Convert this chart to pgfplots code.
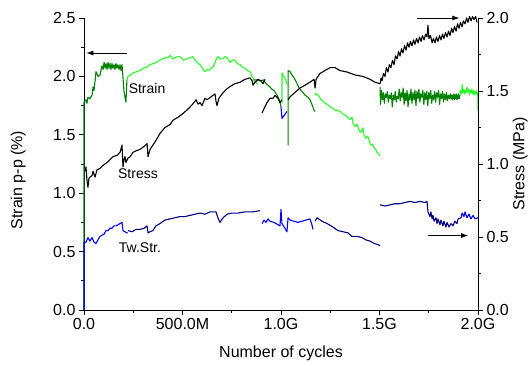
\documentclass[border=0pt]{standalone}
\usepackage{fontspec}
\setmainfont{Liberation Sans}
\usepackage{pgfplots}
\pgfplotsset{compat=1.18}
\usetikzlibrary{arrows.meta}

\definecolor{dkgreen}{RGB}{0,128,0}
\definecolor{ltgreen}{RGB}{40,255,40}
\definecolor{twblue}{RGB}{0,0,255}
\definecolor{twnavy}{RGB}{0,0,128}

\newcommand{\axfont}{\fontsize{16}{19}\selectfont}
\newcommand{\tagfont}{\fontsize{14}{17}\selectfont}

\pgfplotsset{
  base/.style={
    scale only axis, width=394pt, height=292pt,
    xmin=0, xmax=2,
    tick align=outside,
    major tick length=5pt, minor tick length=3pt,
    every tick/.style={black, line width=0.6pt},
    axis line style={line width=0.8pt},
    tick label style={font=\axfont},
    label style={font=\axfont},
    /pgf/number format/assume math mode=true,
    /pgf/number format/fixed, /pgf/number format/fixed zerofill,
    /pgf/number format/precision=1,
    clip=false,
  },
  sig/.style={line width=1.1pt, line join=round, no markers},
}

\begin{document}
\begin{tikzpicture}
% ---------- strain and twist strain (left axis) ----------
\begin{axis}[base,
  ymin=0, ymax=2.5,
  axis x line*=bottom, axis y line*=left,
  xtick={0,0.5,1,1.5,2},
  xticklabels={0.0,500.0M,1.0G,1.5G,2.0G},
  minor x tick num=1,
  ytick={0,0.5,1,1.5,2,2.5}, minor y tick num=1,
  xlabel={Number of cycles},
  ylabel={Strain p-p (\%)},
  xlabel style={at={(axis description cs:0.5,-0.147)}, anchor=center},
  ylabel style={at={(axis description cs:-0.167,0.445)}, anchor=center},
]
% strain, first block
\addplot[sig, dkgreen] coordinates {
(0,0) (0,1.78) (0.010,1.80) (0.015,1.77) (0.020,1.82) (0.030,1.81) (0.041,1.84)
(0.046,1.91) (0.051,1.88) (0.061,2.04) (0.071,2.00) (0.081,2.01) (0.091,2.09)
(0.097,2.06) (0.102,2.12) (0.107,2.07) (0.112,2.11) (0.117,2.06) (0.122,2.12)
(0.127,2.07) (0.132,2.11) (0.137,2.06) (0.142,2.11) (0.147,2.07) (0.152,2.10)
(0.157,2.06) (0.162,2.11) (0.167,2.07) (0.172,2.10) (0.178,2.06) (0.183,2.10)
(0.188,2.05) (0.193,2.10) (0.198,1.99) (0.203,1.87) (0.208,1.82) (0.213,1.78)
(0.218,1.97)
};
\addplot[sig, ltgreen] coordinates {
(0.218,1.97) (0.223,2.00) (0.236,2.01) (0.249,2.03) (0.266,2.04) (0.284,2.05)
(0.300,2.07) (0.320,2.08) (0.335,2.10) (0.350,2.11) (0.368,2.12) (0.386,2.14)
(0.398,2.15) (0.411,2.16) (0.425,2.16) (0.437,2.18) (0.450,2.15) (0.462,2.16)
(0.475,2.17) (0.487,2.17) (0.505,2.14) (0.523,2.15) (0.538,2.16) (0.553,2.17)
(0.564,2.14) (0.574,2.12) (0.589,2.10) (0.601,2.07) (0.614,2.04) (0.625,2.06)
(0.635,2.05) (0.645,2.07) (0.655,2.08) (0.663,2.11) (0.670,2.14) (0.680,2.17)
(0.693,2.15) (0.706,2.15) (0.716,2.17) (0.726,2.16) (0.741,2.12) (0.754,2.14)
(0.766,2.14) (0.779,2.11) (0.792,2.10) (0.805,2.08) (0.817,2.07) (0.830,2.05)
(0.843,2.04) (0.853,2.00) (0.863,1.97) (0.873,1.95) (0.883,1.93)
};
% strain, second block
\addplot[sig, dkgreen] coordinates {
(0.858,1.97) (0.870,1.97) (0.883,1.97) (0.896,1.96) (0.909,1.97) (0.919,1.95)
(0.929,1.93) (0.944,1.91) (0.954,1.89) (0.964,1.88) (0.972,1.86) (0.980,1.84)
(0.988,1.81) (0.995,1.78) (1.000,1.74)
};
\addplot[sig, twblue] coordinates {
(1.000,1.74) (1.005,1.64) (1.018,1.67) (1.030,1.70)
};
\addplot[sig, ltgreen] coordinates {
(1.005,1.77) (1.005,2.03) (1.012,2.00) (1.020,1.99) (1.030,1.93)
};
\addplot[sig, dkgreen] coordinates {
(1.036,1.41) (1.036,2.05) (1.046,2.04) (1.056,2.01) (1.066,1.99) (1.081,1.94)
(1.092,1.90) (1.102,1.88) (1.112,1.86) (1.122,1.84) (1.137,1.82) (1.147,1.80)
(1.157,1.76) (1.168,1.71) (1.173,1.70)
};
\addplot[sig, ltgreen] coordinates {
(1.173,1.86) (1.178,1.84) (1.183,1.85) (1.193,1.83) (1.203,1.80) (1.213,1.79)
(1.223,1.77) (1.236,1.76) (1.249,1.74) (1.261,1.73) (1.274,1.71) (1.287,1.71)
(1.299,1.70) (1.312,1.68) (1.325,1.67) (1.338,1.65) (1.350,1.63) (1.360,1.65)
(1.366,1.60) (1.376,1.57) (1.386,1.59) (1.396,1.54) (1.406,1.52) (1.416,1.56)
(1.421,1.50) (1.431,1.47) (1.441,1.49) (1.451,1.43) (1.457,1.41) (1.465,1.42)
(1.472,1.39) (1.480,1.38) (1.487,1.35) (1.495,1.34) (1.503,1.32)
};
% strain, third block
\addplot[sig, dkgreen] coordinates {
(1.503,1.91) (1.505,1.76) (1.510,1.88) (1.515,1.80) (1.520,1.86) (1.525,1.77)
(1.530,1.85) (1.535,1.82) (1.540,1.87) (1.545,1.78) (1.550,1.84) (1.555,1.81)
(1.560,1.86) (1.565,1.74) (1.570,1.84) (1.575,1.80) (1.580,1.87) (1.585,1.78)
(1.590,1.83) (1.595,1.81) (1.600,1.89) (1.605,1.79) (1.610,1.86) (1.615,1.82)
(1.620,1.90) (1.625,1.76) (1.630,1.86) (1.635,1.79) (1.640,1.88) (1.645,1.74)
(1.650,1.85) (1.655,1.80) (1.660,1.89) (1.665,1.77) (1.670,1.86) (1.675,1.80)
(1.680,1.88) (1.685,1.75) (1.690,1.87) (1.695,1.81) (1.700,1.89) (1.705,1.78)
(1.710,1.85) (1.715,1.82) (1.720,1.88) (1.725,1.76) (1.730,1.86) (1.735,1.80)
(1.740,1.87) (1.745,1.75) (1.750,1.86) (1.755,1.81) (1.760,1.88) (1.765,1.77)
(1.770,1.84) (1.775,1.80) (1.780,1.87) (1.785,1.78) (1.790,1.86) (1.795,1.82)
(1.800,1.88) (1.805,1.76) (1.810,1.85) (1.815,1.81) (1.820,1.87) (1.825,1.78)
(1.830,1.85) (1.835,1.80) (1.840,1.86) (1.845,1.79) (1.850,1.84) (1.855,1.81)
(1.860,1.85) (1.863,1.81) (1.866,1.84) (1.869,1.80) (1.872,1.84) (1.875,1.81)
(1.878,1.85) (1.881,1.80) (1.884,1.84) (1.887,1.81) (1.890,1.85) (1.893,1.80)
(1.896,1.84) (1.899,1.81) (1.902,1.85) (1.905,1.81) (1.908,1.84)
};
\addplot[sig, ltgreen] coordinates {
(1.908,1.84) (1.912,1.88) (1.916,1.85) (1.920,1.93) (1.924,1.86) (1.928,1.89)
(1.932,1.85) (1.936,1.88) (1.940,1.86) (1.944,1.91) (1.948,1.87) (1.952,1.89)
(1.956,1.84) (1.960,1.88) (1.964,1.86) (1.968,1.89) (1.972,1.85) (1.976,1.88)
(1.980,1.84) (1.984,1.87) (1.988,1.85) (1.992,1.88) (1.996,1.83) (2.000,1.86)
(2.000,1.71)
};
% twist strain
\addplot[sig, twblue] coordinates {
(0,0) (0,0.58) (0.010,0.58) (0.020,0.62) (0.030,0.59) (0.041,0.62) (0.051,0.58)
(0.061,0.57) (0.071,0.60) (0.081,0.63) (0.091,0.64) (0.102,0.65) (0.112,0.68)
(0.122,0.68) (0.132,0.70) (0.142,0.70) (0.152,0.72) (0.162,0.72) (0.173,0.73)
(0.183,0.74) (0.193,0.75) (0.198,0.68) (0.208,0.67) (0.218,0.66) (0.223,0.66)
};
\addplot[sig, twnavy] coordinates {
(0.223,0.68) (0.244,0.67) (0.264,0.69) (0.284,0.69) (0.305,0.70) (0.320,0.72)
(0.325,0.66) (0.335,0.67) (0.350,0.68) (0.365,0.72) (0.386,0.74) (0.411,0.77)
(0.437,0.78) (0.462,0.79) (0.487,0.80) (0.513,0.80) (0.538,0.81) (0.563,0.82)
(0.589,0.83) (0.614,0.82) (0.640,0.84) (0.670,0.84) (0.680,0.79) (0.690,0.75)
(0.706,0.79) (0.726,0.82) (0.751,0.83) (0.782,0.83) (0.817,0.84) (0.853,0.84)
(0.893,0.85)
};
\addplot[sig, twblue] coordinates {
(0.904,0.74) (0.914,0.77) (0.924,0.75) (0.934,0.78) (0.944,0.76) (0.964,0.75)
(0.985,0.73) (0.995,0.72) (1.000,0.86) (1.005,0.74) (1.020,0.70) (1.030,0.67)
(1.036,0.79) (1.046,0.77) (1.066,0.76) (1.086,0.75) (1.107,0.76) (1.127,0.77)
(1.147,0.78) (1.157,0.73) (1.162,0.69)
};
\addplot[sig, twnavy] coordinates {
(1.173,0.76) (1.183,0.79) (1.208,0.76) (1.234,0.74) (1.264,0.71) (1.289,0.68)
(1.315,0.67) (1.340,0.66) (1.360,0.63) (1.386,0.63) (1.411,0.62) (1.431,0.60)
(1.452,0.59) (1.472,0.57) (1.492,0.56) (1.503,0.55)
};
\addplot[sig, twnavy] coordinates {
(1.503,0.90) (1.528,0.89) (1.553,0.90) (1.579,0.91) (1.604,0.91) (1.629,0.92)
(1.655,0.93) (1.680,0.92) (1.706,0.93) (1.731,0.92) (1.741,0.93) (1.746,0.84)
(1.756,0.80) (1.761,0.84) (1.767,0.78) (1.772,0.81) (1.777,0.76) (1.787,0.79)
(1.792,0.74) (1.797,0.78) (1.807,0.73) (1.812,0.77) (1.822,0.72) (1.827,0.76)
(1.837,0.71) (1.843,0.75) (1.853,0.71) (1.863,0.74) (1.873,0.72) (1.883,0.76)
(1.893,0.74) (1.899,0.78) (1.914,0.79)
};
\addplot[sig, twblue] coordinates {
(1.914,0.79) (1.919,0.83) (1.929,0.80) (1.934,0.84) (1.944,0.79) (1.954,0.82)
(1.964,0.78) (1.975,0.81) (1.985,0.78) (2.000,0.79)
};
% series names and axis pointer
\node[font=\tagfont, anchor=center] at (axis cs:0.320,1.90) {Strain};
\node[font=\tagfont, anchor=center] at (axis cs:0.274,1.17) {Stress};
\node[font=\tagfont, anchor=center] at (axis cs:0.284,0.53) {Tw.Str.};
\draw[line width=0.8pt, -{Latex[length=7pt,width=5pt]}] (axis cs:0.218,2.20) -- (axis cs:0.012,2.20);
\end{axis}

% ---------- stress (right axis) ----------
\begin{axis}[base,
  ymin=0, ymax=2,
  axis y line*=right, axis x line=none,
  ytick={0,0.5,1,1.5,2}, minor y tick num=1,
]
\addplot[sig, black] coordinates {
(0.005,0.95) (0.010,0.98) (0.015,0.89) (0.020,0.84) (0.025,0.90) (0.030,0.91)
(0.041,0.92) (0.046,0.95) (0.056,0.91) (0.066,0.96) (0.081,0.97) (0.096,0.99)
(0.117,1.01) (0.132,1.03) (0.147,1.05) (0.168,1.06) (0.183,1.08) (0.193,1.13)
(0.198,0.98) (0.203,1.03) (0.208,1.05) (0.213,1.01) (0.223,1.04) (0.234,1.05)
(0.249,1.08) (0.264,1.09) (0.284,1.10) (0.305,1.12) (0.320,1.14) (0.325,1.05)
(0.335,1.10) (0.345,1.12) (0.365,1.16) (0.386,1.21) (0.411,1.25) (0.437,1.27)
(0.452,1.30) (0.477,1.32) (0.497,1.34) (0.523,1.37) (0.538,1.39) (0.558,1.42)
(0.569,1.44) (0.579,1.41) (0.589,1.42) (0.599,1.40) (0.614,1.45) (0.624,1.44)
(0.645,1.46) (0.665,1.48) (0.670,1.43) (0.675,1.40) (0.685,1.45) (0.701,1.48)
(0.721,1.51) (0.741,1.53) (0.766,1.55) (0.792,1.56) (0.817,1.58) (0.843,1.59)
(0.853,1.57) (0.858,1.54) (0.868,1.56) (0.883,1.58) (0.898,1.57) (0.909,1.55)
(0.919,1.58)
};
\addplot[sig, black] coordinates {
(0.904,1.35) (0.914,1.38) (0.929,1.42) (0.944,1.45) (0.959,1.45) (0.970,1.47)
(0.985,1.45) (0.995,1.42) (1.005,1.44)
};
\addplot[sig, black] coordinates {
(1.036,1.44) (1.046,1.46) (1.071,1.49) (1.096,1.52) (1.122,1.54) (1.147,1.56)
(1.168,1.58) (1.173,1.52) (1.178,1.58) (1.198,1.62) (1.223,1.64) (1.249,1.66)
(1.274,1.66) (1.299,1.64) (1.335,1.63) (1.376,1.61) (1.416,1.60) (1.452,1.58)
(1.477,1.56) (1.503,1.55) (1.508,1.59) (1.513,1.57) (1.520,1.62) (1.528,1.60)
(1.535,1.66) (1.543,1.63) (1.550,1.68) (1.558,1.66) (1.566,1.71) (1.574,1.68)
(1.581,1.74) (1.589,1.72) (1.597,1.77) (1.604,1.74) (1.612,1.79) (1.619,1.76)
(1.627,1.81) (1.635,1.78) (1.642,1.83) (1.650,1.80) (1.657,1.84) (1.665,1.81)
(1.673,1.85) (1.680,1.82) (1.688,1.86) (1.696,1.83) (1.703,1.87) (1.711,1.84)
(1.718,1.88) (1.726,1.85) (1.734,1.89) (1.741,1.87) (1.746,1.95) (1.751,1.86)
(1.759,1.88) (1.767,1.83) (1.774,1.86) (1.782,1.83) (1.789,1.87) (1.797,1.84)
(1.805,1.88) (1.812,1.85) (1.820,1.89) (1.827,1.86) (1.835,1.90) (1.843,1.87)
(1.850,1.91) (1.858,1.88) (1.866,1.93) (1.873,1.90) (1.881,1.94) (1.889,1.91)
(1.896,1.96) (1.904,1.93) (1.911,1.97) (1.919,1.94) (1.926,1.98) (1.934,1.96)
(1.942,2.00) (1.949,1.97) (1.957,2.01) (1.965,1.98) (1.972,2.01) (1.980,1.99)
(1.988,2.01) (1.995,1.97)
};
\draw[line width=0.8pt, -{Latex[length=7pt,width=5pt]}] (axis cs:1.690,2.00) -- (axis cs:1.905,2.00);
\draw[line width=0.8pt, -{Latex[length=7pt,width=5pt]}] (axis cs:1.746,0.51) -- (axis cs:1.950,0.51);
% right-hand axis title, reading upwards
\node[font=\axfont, rotate=90, anchor=center] at (axis description cs:1.107,0.5) {Stress (MPa)};
\end{axis}
\pgfresetboundingbox
\useasboundingbox (-84pt,-56pt) rectangle (447pt,310pt);
\end{tikzpicture}
\end{document}
